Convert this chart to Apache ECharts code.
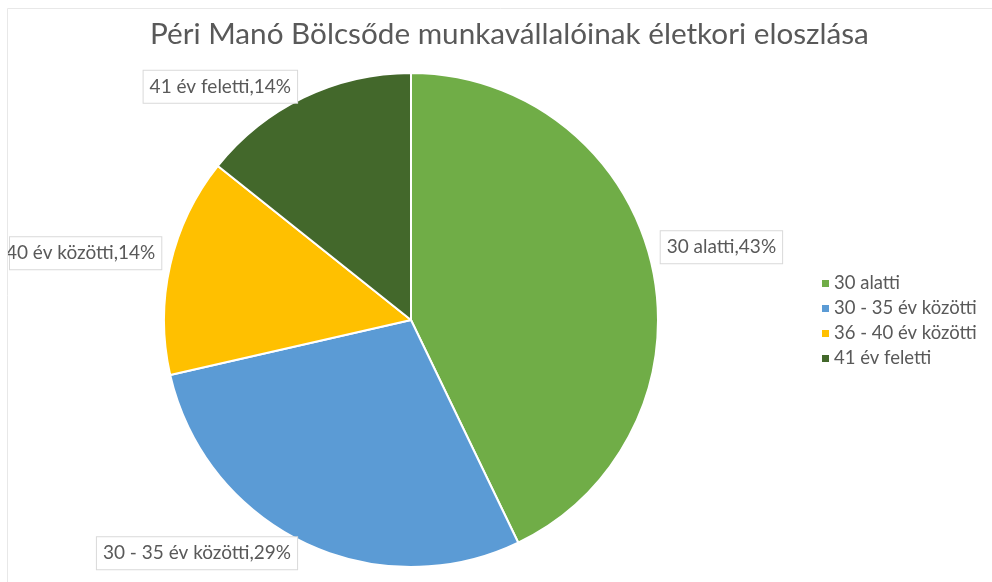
<!DOCTYPE html>
<html>
<head>
<meta charset="utf-8">
<script src="https://cdn.jsdelivr.net/npm/echarts@6/dist/echarts.min.js"></script>
<style>html,body{margin:0;padding:0;background:#fff}#c{width:992px;height:582px}</style>
</head>
<body>
<div id="c"></div>
<script>
const titleText = 'Péri Manó Bölcsőde munkavállalóinak életkori eloszlása';
const categories = ['30 alatti', '30 - 35 év közötti', '36 - 40 év közötti', '41 év feletti'];
const values = [3, 2, 1, 1];
const colors = ['#70AD47', '#5B9BD5', '#FFC000', '#43682B'];

const cx = 411, cy = 320;
const labelShift = [-17, 7, -11, -7];
const chart = echarts.init(document.getElementById('c'));
chart.setOption({
  backgroundColor: '#fff',
  animation: false,
  color: colors,
  title: {
    text: titleText,
    left: 145,
    top: 14,
    textStyle: { fontFamily: 'Lato', fontSize: 29.7, fontWeight: 'normal', color: '#595959' }
  },
  legend: {
    orient: 'vertical',
    left: 815,
    top: 269,
    icon: 'rect',
    itemWidth: 9,
    itemHeight: 9,
    itemGap: 6,
    textStyle: { fontFamily: 'Lato', fontSize: 18.5, color: '#595959', padding: [0, 0, 0, -1] },
    data: categories
  },
  series: [{
    type: 'pie',
    center: [cx, cy],
    radius: 247,
    startAngle: 90,
    clockwise: true,
    percentPrecision: 0,
    itemStyle: { borderColor: '#fff', borderWidth: 2 },
    label: {
      show: true,
      position: 'outside',
      formatter: '{b},{d}%',
      overflow: 'none',
      fontFamily: 'Lato',
      fontSize: 19,
      color: '#595959',
      borderColor: '#d9d9d9',
      borderWidth: 1,
      backgroundColor: '#fff',
      padding: [7, 6, 6, 6]
    },
    labelLine: { show: false, length: 4, length2: 0 },
    labelLayout: function (p) { return { dy: labelShift[p.dataIndex] }; },
    data: categories.map((n, i) => ({ name: n, value: values[i] }))
  }],
  graphic: [
    { type: 'rect', z: 100, shape: { x: 0, y: 0, width: 7, height: 582 }, style: { fill: '#fff' } },
    { type: 'rect', z: 101, shape: { x: 7.5, y: 8.5, width: 1000, height: 1000 }, style: { fill: null, stroke: '#e8e8e8', lineWidth: 1 } }
  ]
});
</script>
</body>
</html>
